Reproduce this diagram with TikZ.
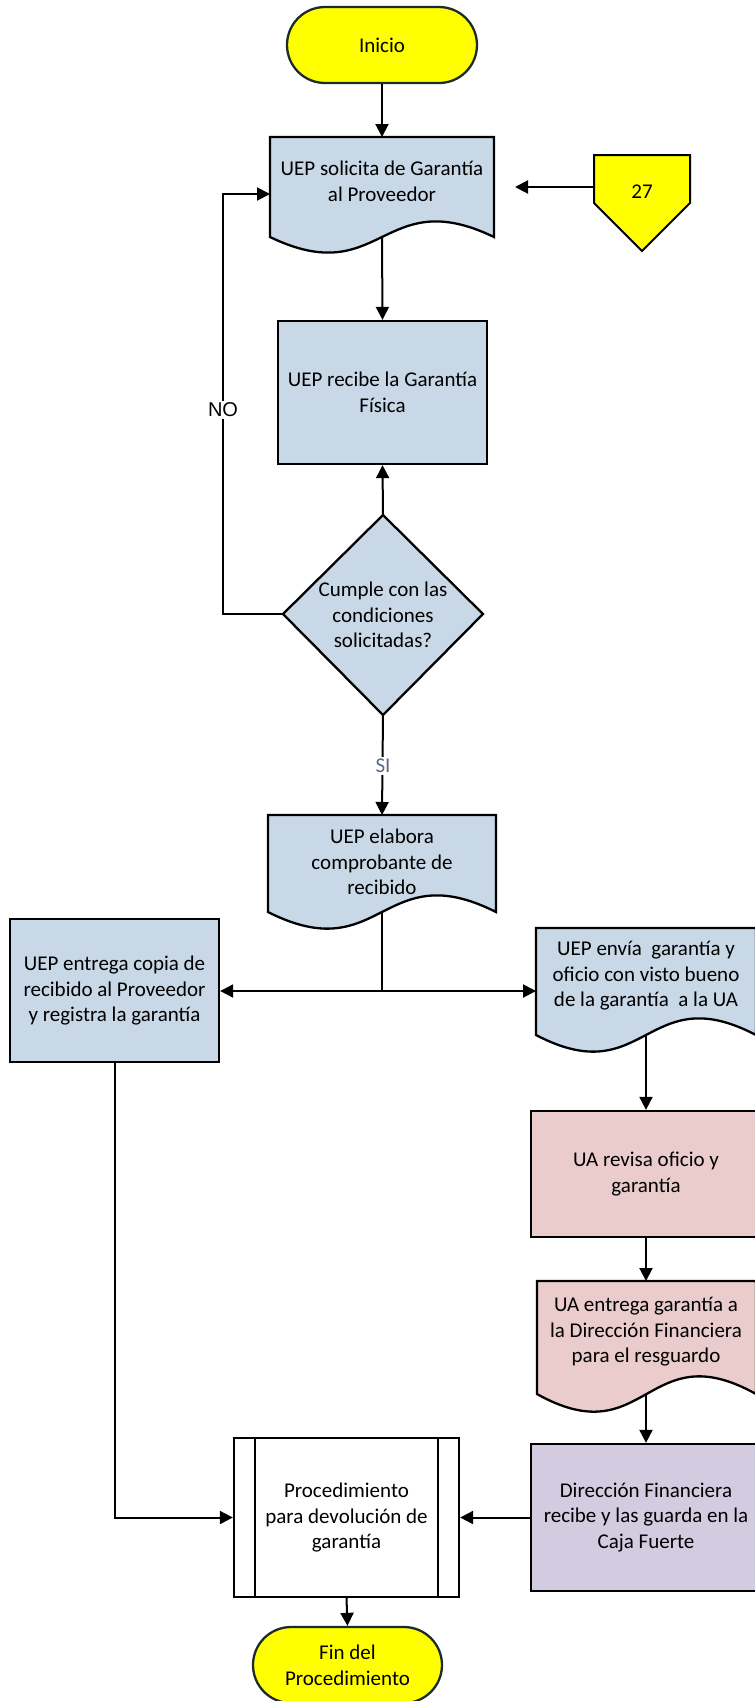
\documentclass[tikz,border=0pt]{standalone}
\usepackage{fontspec}
\setmainfont{Carlito}
\newfontfamily\arialf{Liberation Sans}
\usetikzlibrary{arrows.meta}
\definecolor{blueF}{RGB}{200,216,230}
\definecolor{pinkF}{RGB}{235,204,204}
\definecolor{purpF}{RGB}{211,203,224}
\definecolor{yelF}{RGB}{255,255,0}
\definecolor{termD}{RGB}{28,44,46}
\definecolor{siC}{RGB}{88,108,132}
\newcommand{\docpath}[6]{%
  \draw[shapeline, fill=#6] (#1,#4) -- (#1,#3) -- (#2,#3) -- (#2,#4)
    .. controls ({(#1+#2)/2},{#4-3.6*#5}) and ({(#1+#2)/2},{#4+3.6*#5}) .. (#1,#4) -- cycle;}
\begin{document}
\begin{tikzpicture}[x=1pt,y=-1pt,
  font=\fontsize{21}{25.6}\selectfont,
  shapeline/.style={line width=2.3pt, draw=black},
  conn/.style={line width=2pt, -{Triangle[length=13pt,width=13pt]}},
  plain/.style={line width=2pt},
  procbox/.style={draw, line width=2.3pt, inner sep=0pt, align=center},
  termbox/.style={draw=termD, fill=yelF, line width=2.3pt, inner sep=0pt, align=center, rounded corners=38pt, minimum height=76pt},
  txt/.style={align=center, inner sep=0pt},
  lbl/.style={fill=white, inner sep=2pt}]
\useasboundingbox (0,0) rectangle (755,1701);
\clip (0,0) rectangle (755,1701);

% Inicio
\node[termbox, minimum width=190pt] (inicio) at (382,45) {Inicio};

% UEP solicita (document)
\docpath{270}{494}{137}{237}{15}{blueF}
\node[txt] (sol) at (382,181) {UEP solicita de Garantía\\al Proveedor};
\coordinate (solT) at (382,137);
\coordinate (solB) at (382,237);
\coordinate (solW) at (270,194);
\coordinate (g27) at (515,187);

% off-page connector 27
\draw[shapeline, fill=yelF, line width=2pt] (594,155) -- (690,155) -- (690,203) -- (642,251) -- (594,203) -- cycle;
\node[txt] (c27) at (642,192) {27};
\coordinate (c27W) at (594,187);

% UEP recibe
\node[procbox, fill=blueF, minimum width=209pt, minimum height=143pt] (recibe) at (382.5,392.5) {UEP recibe la Garantía\\Física};

% decision
\draw[shapeline, fill=blueF] (383,515) -- (483,614) -- (383,715) -- (283,614) -- cycle;
\node[txt] (dec) at (383,615) {Cumple con las\\condiciones\\solicitadas?};
\coordinate (decT) at (383,515);
\coordinate (decB) at (383,715);
\coordinate (decL) at (283,614);

% UEP elabora (document)
\docpath{268}{496}{815}{912}{16}{blueF}
\node[txt] (ela) at (382,862) {UEP elabora\\comprobante de\\recibido};
\coordinate (elaT) at (382,815);
\coordinate (elaB) at (382,912);
\coordinate (split) at (382,991);

% left box
\node[procbox, fill=blueF, minimum width=209pt, minimum height=143pt] (left) at (114.5,990.5) {UEP entrega copia de\\recibido al Proveedor\\y registra la garantía};

% UEP envia (document)
\docpath{536}{756}{928}{1035}{16}{blueF}
\node[txt] (env) at (646,976) {UEP envía~ garantía y\\oficio con visto bueno\\de la garantía~ a la UA};
\coordinate (envW) at (536,991);
\coordinate (envB) at (646,1035);

% UA revisa
\node[procbox, fill=pinkF, minimum width=230pt, minimum height=126pt] (revisa) at (646,1174) {UA revisa oficio y\\garantía};

% UA entrega (document)
\docpath{537}{756}{1281}{1394}{17}{pinkF}
\node[txt] (ent) at (646,1332) {UA entrega garantía a\\la Dirección Financiera\\para el resguardo};
\coordinate (entT) at (646,1281);
\coordinate (entB) at (646,1394);

% Direccion Financiera
\node[procbox, fill=purpF, minimum width=230pt, minimum height=147pt] (dir) at (646,1517.5) {Dirección Financiera\\recibe y las guarda en la\\Caja Fuerte};

% predefined process
\node[procbox, fill=white, minimum width=225pt, minimum height=159pt] (proc) at (346.5,1517.5) {Procedimiento\\para devolución de\\garantía};
\draw[shapeline] ([xshift=22pt]proc.north west) -- ([xshift=22pt]proc.south west);
\draw[shapeline] ([xshift=-22pt]proc.north east) -- ([xshift=-22pt]proc.south east);

% Fin
\node[termbox, minimum width=189pt] (fin) at (347.5,1665) {Fin del\\Procedimiento};

% connectors
\draw[conn] (inicio.south) -- (solT);
\draw[conn] (c27W) -- (g27);
\draw[conn] (solB) -- (recibe.north);
\draw[conn] (decT) -- (recibe.south);
\draw[conn] (decL) -- ++(-60,0) |- (solW);
\node[lbl, font=\arialf\fontsize{20}{24}\selectfont] (no) at (223,410) {NO};
\draw[conn] (decB) -- (elaT);
\node[lbl, text=siC] (si) at (383,766) {SI};
\draw[plain] (elaB) -- (split);
\draw[conn] (split) -- (left.east |- split);
\draw[conn] (split) -- (envW);
\draw[conn] (envB) -- (revisa.north);
\draw[conn] (revisa.south) -- (entT);
\draw[conn] (entB) -- (dir.north);
\draw[conn] (dir.west) -- (proc.east);
\draw[conn] (left.south) |- (proc.west);
\draw[conn] (proc.south) -- (fin.north);
\end{tikzpicture}
\end{document}
